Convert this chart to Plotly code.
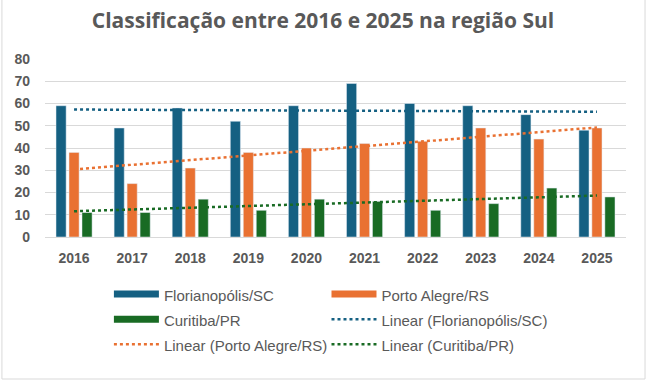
import numpy as np
import plotly.graph_objects as go

years = ["2016", "2017", "2018", "2019", "2020", "2021", "2022", "2023", "2024", "2025"]
floripa = [59, 49, 58, 52, 59, 69, 60, 59, 55, 48]
poa = [38, 24, 31, 38, 40, 42, 43, 49, 44, 49]
curitiba = [11, 11, 17, 12, 17, 16, 12, 15, 22, 18]

names = ["Florianopólis/SC", "Porto Alegre/RS", "Curitiba/PR"]
colors = ["#156082", "#E97132", "#196B24"]
series = [floripa, poa, curitiba]

fig = go.Figure()
idx = np.arange(len(years))

for name, col, vals in zip(names, colors, series):
    fig.add_trace(go.Bar(x=years, y=vals, name=name, marker_color=col,
                         showlegend=False, legendgroup=name))

for name, col, vals in zip(names, colors, series):
    m, b = np.polyfit(idx, vals, 1)
    trend = m * idx + b
    fig.add_trace(go.Scatter(x=years, y=trend, mode="lines", name=f"Linear ({name})",
                             line=dict(color=col, width=2.5, dash="dot"),
                             showlegend=False, legendgroup="lin" + name, hoverinfo="skip"))

# (label, colour, style, legend column)
legend_entries = [
    (names[0], colors[0], "solid", "legend"),
    (names[1], colors[1], "solid", "legend2"),
    (names[2], colors[2], "solid", "legend"),
    ("Linear (" + names[0] + ")", colors[0], "dot", "legend2"),
    ("Linear (" + names[1] + ")", colors[1], "dot", "legend"),
    ("Linear (" + names[2] + ")", colors[2], "dot", "legend2"),
]
for i, (nm, col, kind, lg) in enumerate(legend_entries):
    grp = nm if kind == "solid" else "lin" + nm[8:-1]
    fig.add_trace(go.Scatter(x=[None], y=[None], mode="lines",
                             name=f'<span style="font-size:15px">{nm}</span>',
                             legendrank=i + 1, legendgroup=grp, legend=lg,
                             line=dict(color=col, width=7 if kind == "solid" else 2.5,
                                       dash=kind)))

legend_common = dict(orientation="v", xanchor="left", y=-0.222, yanchor="top",
                     itemwidth=45, traceorder="normal", bgcolor="rgba(0,0,0,0)",
                     font=dict(family="Liberation Sans", size=17, color="#595959"))

fig.update_layout(
    width=646, height=382,
    margin=dict(l=45, r=20, t=59, b=145),
    paper_bgcolor="white", plot_bgcolor="white",
    barmode="group", bargap=0.33, bargroupgap=0.22,
    title=dict(text="<b>Classificação entre 2016 e 2025 na região Sul</b>",
               x=0.5, xref="container", xanchor="center",
               y=1 - 21 / 382, yanchor="middle", yref="container",
               font=dict(family="Open Sans", size=21, color="#595959")),
    font=dict(family="Liberation Sans", color="#595959"),
    legend=dict(x=0.11, **legend_common),
    legend2=dict(x=0.4845, **legend_common),
    showlegend=True,
)
fig.update_xaxes(showgrid=False, showline=True, linecolor="#d9d9d9", linewidth=1,
                 ticks="", ticklabelstandoff=8,
                 tickfont=dict(family="Liberation Sans", size=14, color="#595959", weight="bold"))
fig.update_yaxes(range=[0, 80], dtick=10, showgrid=True, gridcolor="#d9d9d9", gridwidth=1,
                 zeroline=False, ticks="", ticklabelstandoff=14,
                 tickfont=dict(family="Liberation Sans", size=14, color="#595959", weight="bold"))

fig.add_shape(type="rect", xref="paper", yref="paper",
              x0=(2 - 45) / 580, x1=(644 - 45) / 580, y0=(237 - 379) / 178, y1=(237 + 5) / 178,
              line=dict(color="#d9d9d9", width=1), fillcolor="rgba(0,0,0,0)", layer="below")

fig.write_html("out.html", post_script="document.body.style.margin='0';",
               config={"displayModeBar": False})
